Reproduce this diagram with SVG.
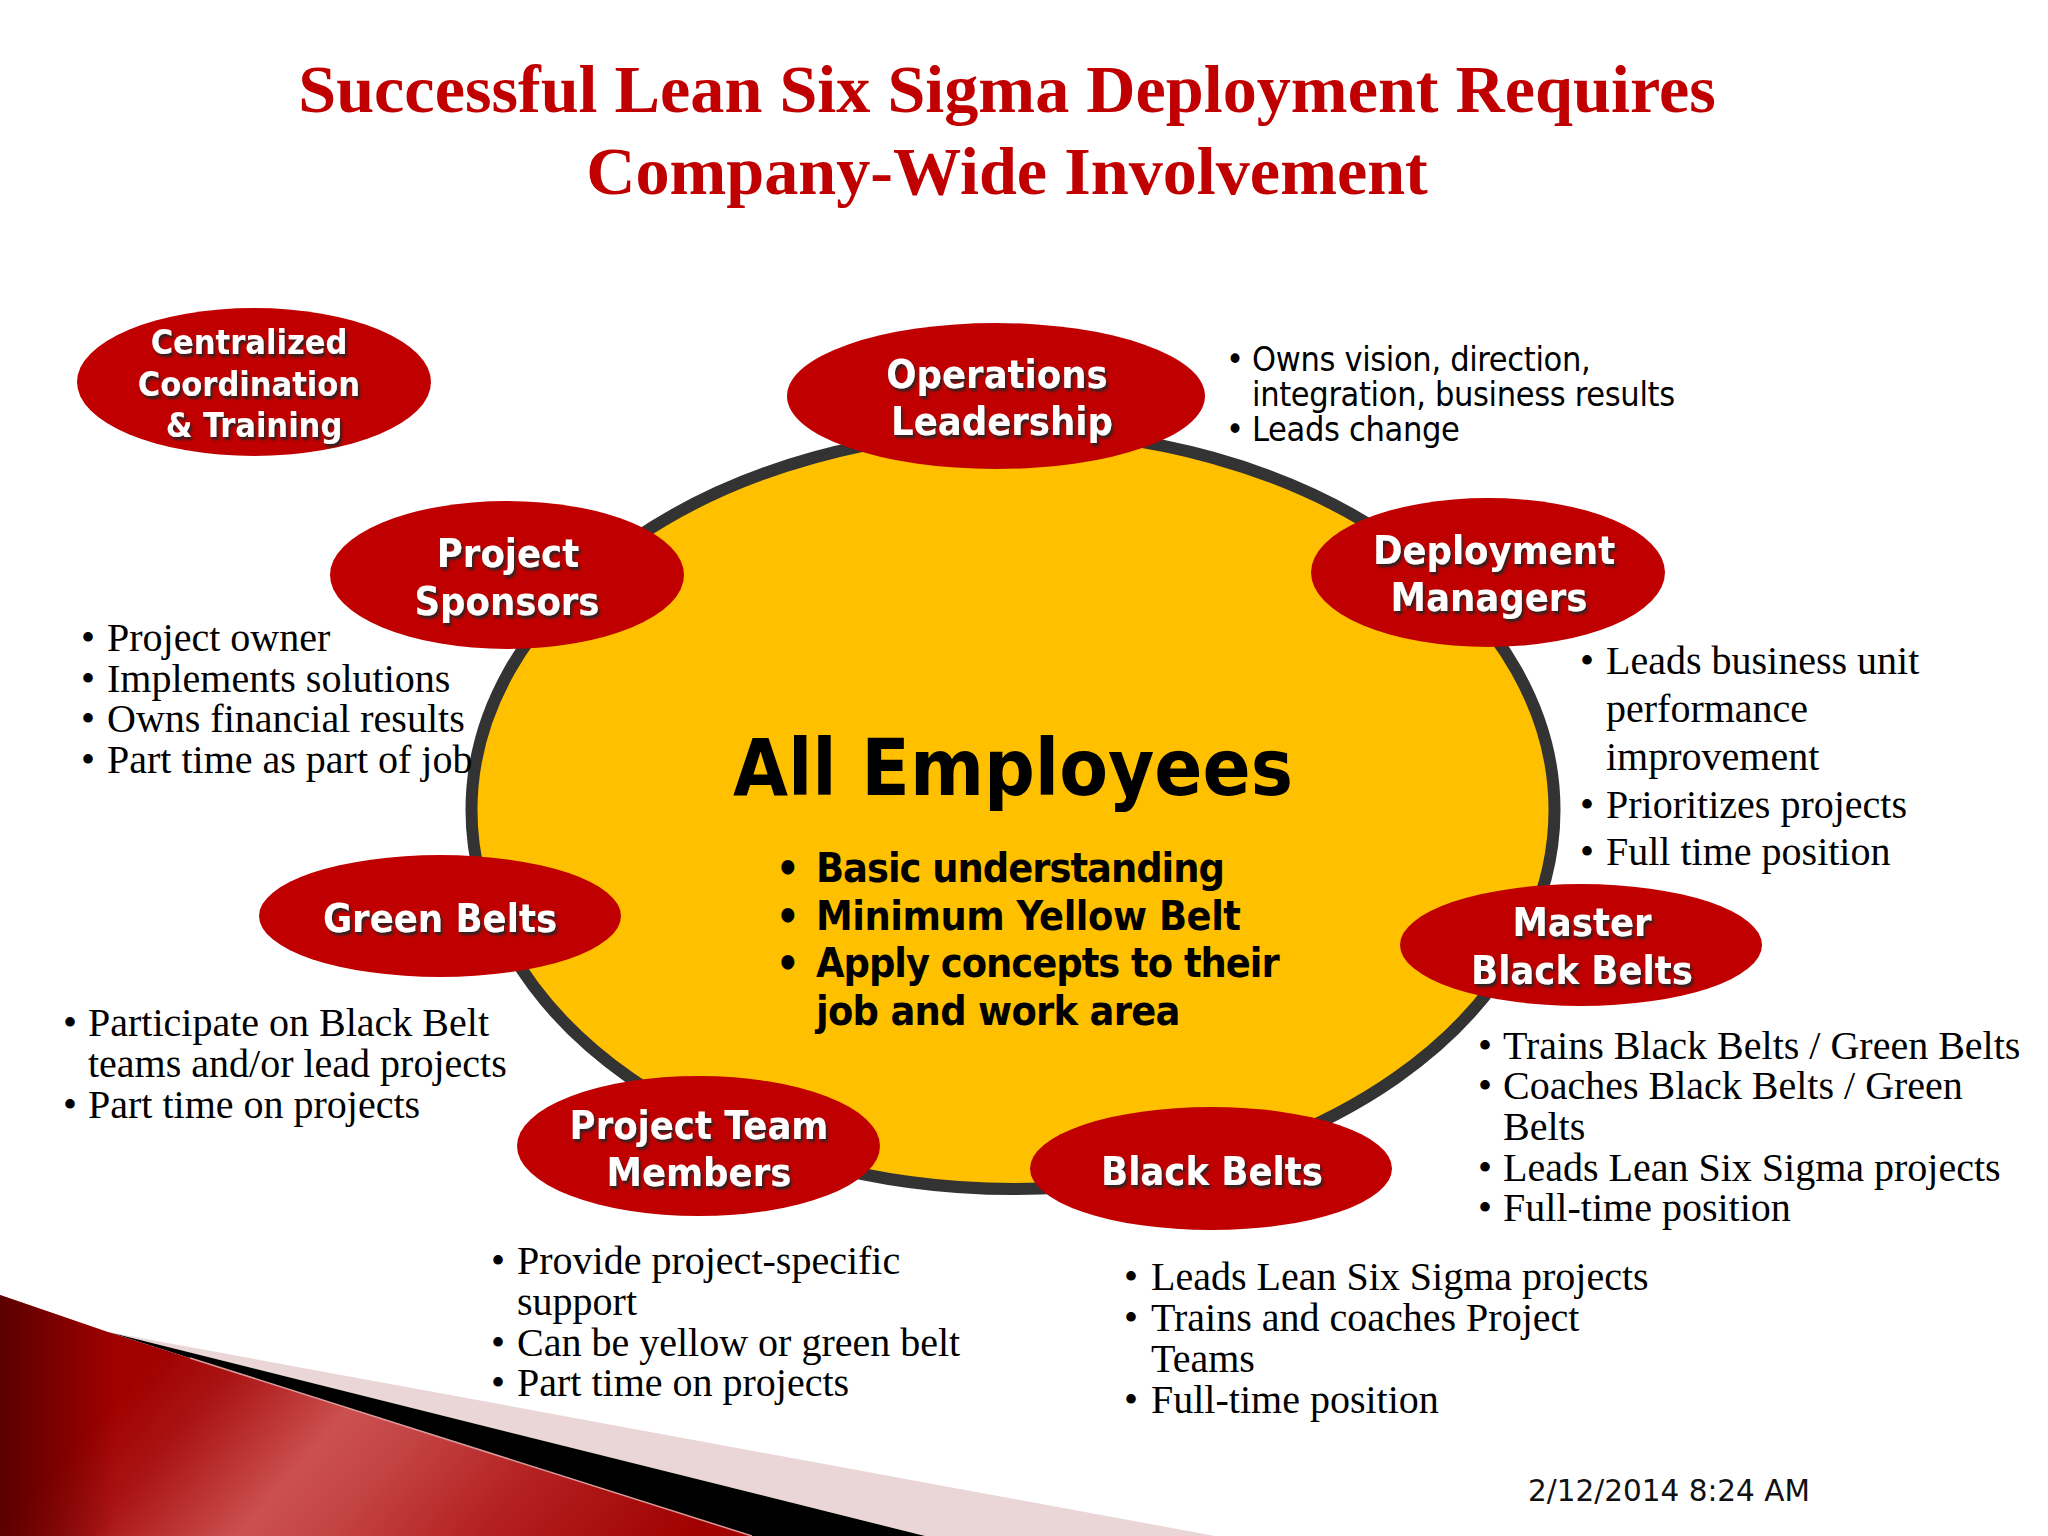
<svg xmlns="http://www.w3.org/2000/svg" width="2048" height="1536" viewBox="0 0 2048 1536">
<style>
.title{font:bold 68.2px "Liberation Serif",serif;fill:#c00000;text-anchor:middle}
.oval{fill:#c00000}
.lab{font-family:"DejaVu Sans",sans-serif;font-stretch:condensed;font-weight:bold;font-size:39.5px;fill:#fff;text-anchor:middle;filter:url(#sh)}
.b{font:40px "Liberation Serif",serif;fill:#000}
.c{font-family:"DejaVu Sans",sans-serif;font-stretch:condensed;font-size:34px;letter-spacing:-0.35px;fill:#000}
.m{font-family:"DejaVu Sans",sans-serif;font-stretch:condensed;font-weight:bold;font-size:41px;letter-spacing:-0.8px;fill:#000}
.big{font-family:"DejaVu Sans",sans-serif;font-stretch:condensed;font-weight:bold;font-size:79px;fill:#000;text-anchor:middle}
</style>
<defs>
<filter id="sh" x="-10%" y="-20%" width="120%" height="150%"><feDropShadow dx="2" dy="3" stdDeviation="1" flood-color="#222" flood-opacity="0.9"/></filter>
<linearGradient id="red" gradientUnits="userSpaceOnUse" x1="0" y1="1320" x2="525" y2="1782">
<stop offset="0" stop-color="#a00000"/><stop offset="0.2" stop-color="#a00000"/><stop offset="0.3" stop-color="#aa1414"/><stop offset="0.46" stop-color="#cc5050"/><stop offset="0.55" stop-color="#c44444"/><stop offset="0.72" stop-color="#b42020"/><stop offset="0.95" stop-color="#a00000"/>
</linearGradient>
<linearGradient id="dark" gradientUnits="userSpaceOnUse" x1="0" y1="0" x2="115" y2="0">
<stop offset="0" stop-color="#4a0000" stop-opacity="0.8"/><stop offset="1" stop-color="#4a0000" stop-opacity="0"/>
</linearGradient>
</defs>
<rect width="2048" height="1536" fill="#fff"/>
<g id="swoosh">
<polygon points="108,1332 1215,1536 925,1536" fill="#ead5d7" />
<polygon points="108,1332 925,1536 750,1536" fill="#000"/>
<polygon points="0,1295 108,1332 752,1536 0,1536" fill="url(#red)"/>
<polygon points="0,1295 108,1332 115,1336 115,1536 0,1536" fill="url(#dark)"/>
<line x1="190" y1="1358" x2="752" y2="1536" stroke="#d89a9a" stroke-width="1.5"/>
</g>
<g id="title">
<text class="title"><tspan x="1007" y="112">Successful Lean Six Sigma Deployment Requires</tspan><tspan x="1007" y="194">Company-Wide Involvement</tspan></text>
</g>
<g id="connectors"></g>
<g id="all-employees">
<ellipse cx="1013" cy="810" rx="541.5" ry="379" fill="#ffc000" stroke="#333" stroke-width="12"/>
<text class="big" x="1013" y="795">All Employees</text>
<text class="m"><tspan x="776" y="882">•</tspan><tspan x="816" y="882" letter-spacing="-1">Basic understanding</tspan><tspan x="776" y="930">•</tspan><tspan x="816" y="930" letter-spacing="-0.45">Minimum Yellow Belt</tspan><tspan x="776" y="977">•</tspan><tspan x="816" y="977" letter-spacing="-1">Apply concepts to their</tspan><tspan x="816" y="1025" letter-spacing="-0.7">job and work area</tspan></text>
</g>
<g id="centralized">
<ellipse class="oval" cx="254" cy="382" rx="177" ry="74"/>
<text class="lab" style="font-size:34px"><tspan x="249" y="354">Centralized</tspan><tspan x="249" y="396">Coordination</tspan><tspan x="254" y="437">&amp; Training</tspan></text>
</g>
<g id="operations">
<ellipse class="oval" cx="996" cy="396" rx="209" ry="73"/>
<text class="lab"><tspan x="997" y="388">Operations</tspan><tspan x="1002" y="435">Leadership</tspan></text>
<text class="c"><tspan x="1226" y="371">•</tspan><tspan x="1252" y="371">Owns vision, direction,</tspan><tspan x="1252" y="406">integration, business results</tspan><tspan x="1226" y="441">•</tspan><tspan x="1252" y="441">Leads change</tspan></text>
</g>
<g id="sponsors">
<ellipse class="oval" cx="507" cy="575" rx="177" ry="74"/>
<text class="lab"><tspan x="508" y="567">Project</tspan><tspan x="507" y="615">Sponsors</tspan></text>
<text class="b"><tspan x="81" y="651">•</tspan><tspan x="107" y="651">Project owner</tspan><tspan x="81" y="692">•</tspan><tspan x="107" y="692">Implements solutions</tspan><tspan x="81" y="732">•</tspan><tspan x="107" y="732">Owns financial results</tspan><tspan x="81" y="773">•</tspan><tspan x="107" y="773">Part time as part of job</tspan></text>
</g>
<g id="deployment">
<ellipse class="oval" cx="1488" cy="572.500" rx="177" ry="74.500"/>
<text class="lab"><tspan x="1494" y="564">Deployment</tspan><tspan x="1489" y="611">Managers</tspan></text>
<text class="b"><tspan x="1580" y="674">•</tspan><tspan x="1606" y="674">Leads business unit</tspan><tspan x="1606" y="722">performance</tspan><tspan x="1606" y="770">improvement</tspan><tspan x="1580" y="818">•</tspan><tspan x="1606" y="818">Prioritizes projects</tspan><tspan x="1580" y="865">•</tspan><tspan x="1606" y="865">Full time position</tspan></text>
</g>
<g id="green">
<ellipse class="oval" cx="440" cy="916" rx="181" ry="61"/>
<text class="lab" x="440" y="932">Green Belts</text>
<text class="b"><tspan x="63" y="1036">•</tspan><tspan x="88" y="1036">Participate on Black Belt</tspan><tspan x="88" y="1077">teams and/or lead projects</tspan><tspan x="63" y="1118">•</tspan><tspan x="88" y="1118">Part time on projects</tspan></text>
</g>
<g id="master">
<ellipse class="oval" cx="1581" cy="945" rx="181" ry="61"/>
<text class="lab"><tspan x="1582" y="936">Master</tspan><tspan x="1582" y="984">Black Belts</tspan></text>
<text class="b"><tspan x="1478" y="1059">•</tspan><tspan x="1503" y="1059">Trains Black Belts / Green Belts</tspan><tspan x="1478" y="1099">•</tspan><tspan x="1503" y="1099">Coaches Black Belts / Green</tspan><tspan x="1503" y="1140">Belts</tspan><tspan x="1478" y="1181">•</tspan><tspan x="1503" y="1181">Leads Lean Six Sigma projects</tspan><tspan x="1478" y="1221">•</tspan><tspan x="1503" y="1221">Full-time position</tspan></text>
</g>
<g id="team">
<ellipse class="oval" cx="698.500" cy="1146" rx="181.500" ry="70"/>
<text class="lab"><tspan x="699" y="1139">Project Team</tspan><tspan x="699" y="1186">Members</tspan></text>
<text class="b"><tspan x="491" y="1274">•</tspan><tspan x="517" y="1274">Provide project-specific</tspan><tspan x="517" y="1315">support</tspan><tspan x="491" y="1356">•</tspan><tspan x="517" y="1356">Can be yellow or green belt</tspan><tspan x="491" y="1396">•</tspan><tspan x="517" y="1396">Part time on projects</tspan></text>
</g>
<g id="black">
<ellipse class="oval" cx="1211" cy="1168.500" rx="181" ry="61.500"/>
<text class="lab" x="1212" y="1185">Black Belts</text>
<text class="b"><tspan x="1124" y="1290">•</tspan><tspan x="1151" y="1290">Leads Lean Six Sigma projects</tspan><tspan x="1124" y="1331">•</tspan><tspan x="1151" y="1331">Trains and coaches Project</tspan><tspan x="1151" y="1372">Teams</tspan><tspan x="1124" y="1413">•</tspan><tspan x="1151" y="1413">Full-time position</tspan></text>
</g>
<text x="1528" y="1501" font-family="DejaVu Sans,sans-serif" font-size="29.5" fill="#111">2/12/2014 8:24 AM</text>
</svg>
